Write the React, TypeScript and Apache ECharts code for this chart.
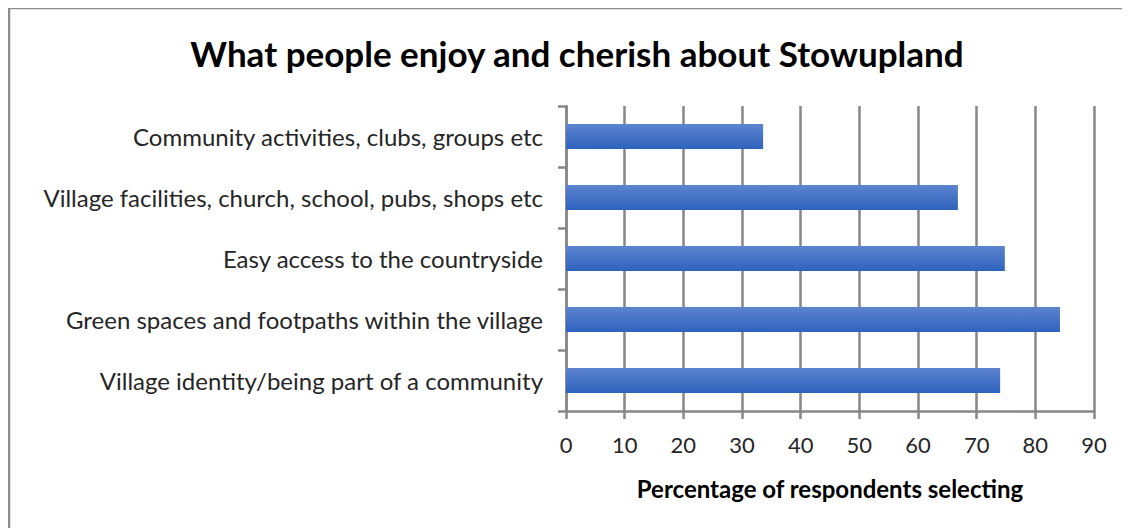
import React, { useEffect, useRef } from "react";
import * as echarts from "echarts";

const categories = [
  "Community activities, clubs, groups etc",
  "Village facilities, church, school, pubs, shops etc",
  "Easy access to the countryside",
  "Green spaces and footpaths within the village",
  "Village identity/being part of a community",
];
const values = [33.6, 66.8, 74.8, 84.2, 74.0];
const xTicks = { min: 0, max: 90, interval: 10 };
const titleText = "What people enjoy and cherish about Stowupland";
const xAxisName = "Percentage of respondents selecting";

export default function App() {
  const ref = useRef<HTMLDivElement>(null);
  useEffect(() => {
    if (!ref.current) return;
    const chart = echarts.init(ref.current, undefined, { renderer: "svg" });
    const gray = "#878787";
    chart.setOption({
      animation: false,
      backgroundColor: "#ffffff",
      title: {
        text: titleText,
        left: 569,
        textAlign: "center",
        top: 27,
        padding: 0,
        textStyle: {
          fontFamily: "Lato",
          fontWeight: "bold",
          fontSize: 35,
          color: "#000000",
        },
      },
      graphic: [
        {
          type: "rect",
          shape: { x: 1, y: 0, width: 3000, height: 3000 },
          style: { fill: "none", stroke: "#8c8c8c", lineWidth: 2.5 },
          silent: true,
        },
      ],
      grid: { left: 558, right: 36, top: 98, bottom: 117, containLabel: false },
      xAxis: {
        type: "value",
        min: xTicks.min,
        max: xTicks.max,
        interval: xTicks.interval,
        name: xAxisName,
        nameLocation: "middle",
        nameGap: 65,
        nameTextStyle: {
          fontFamily: "Lato",
          fontWeight: "bold",
          fontSize: 24,
          color: "#000000",
        },
        axisLine: { show: true, lineStyle: { color: gray, width: 2.5 } },
        axisTick: { show: true, length: 8, lineStyle: { color: gray, width: 2.5 } },
        splitLine: { show: true, lineStyle: { color: gray, width: 2.5 } },
        axisLabel: {
          margin: 22,
          fontFamily: "Lato",
          fontSize: 22,
          color: "#262626",
        },
      },
      yAxis: {
        type: "category",
        data: categories,
        inverse: true,
        axisLine: { show: true, lineStyle: { color: gray, width: 2.5 } },
        axisTick: { show: true, length: 8, lineStyle: { color: gray, width: 2.5 } },
        axisLabel: {
          margin: 23,
          fontFamily: "Lato",
          fontSize: 24,
          color: "#262626",
        },
      },
      series: [
        {
          type: "bar",
          data: values,
          barWidth: 25,
          itemStyle: {
            color: new echarts.graphic.LinearGradient(0, 0, 0, 1, [
              { offset: 0, color: "#5d84cf" },
              { offset: 1, color: "#2e62bd" },
            ]),
          },
        },
      ],
    });
    return () => chart.dispose();
  }, []);
  return <div ref={ref} style={{ width: 1122, height: 520 }} />;
}
